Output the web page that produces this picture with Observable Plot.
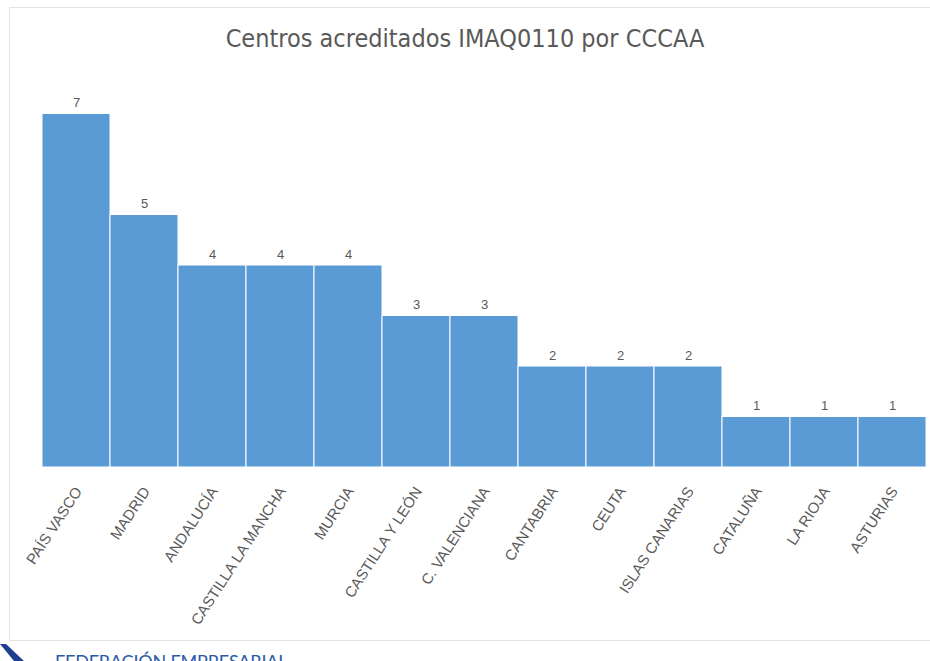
<!DOCTYPE html>
<html>
<head>
<meta charset="utf-8">
<script src="https://cdn.jsdelivr.net/npm/d3@7"></script>
<script src="https://cdn.jsdelivr.net/npm/@observablehq/plot@0.6"></script>
<style>
  html, body { margin: 0; padding: 0; background: #fff; overflow: hidden; }
  #wrap { position: relative; width: 930px; height: 661px; }
  #frame { position: absolute; left: 9px; top: 7px; width: 930px; height: 634px; border: 1px solid #e3e3e3; box-sizing: border-box; }
  #title { position: absolute; left: 0; top: 24px; width: 930px; text-align: center;
           font-family: "Liberation Sans Narrow", "DejaVu Sans Condensed", sans-serif; font-size: 25px; color: #595959; }
  #footer { position: absolute; left: 55px; top: 650px; font-family: Lato, "Open Sans", sans-serif; font-size: 18px;
            color: #2b5aa6; letter-spacing: -0.2px; white-space: nowrap; }
  #chart { position: absolute; left: 0; top: 0; }
  #logo { position: absolute; left: 0; top: 640px; }
</style>
</head>
<body>
<div id="wrap">
  <div id="frame"></div>
  <div id="chart"></div>
  <div id="title">Centros acreditados IMAQ0110 por CCCAA</div>
  <div id="footer">FEDERACIÓN EMPRESARIAL</div>
  <svg id="logo" width="30" height="21"><path d="M0,4 L6,4 L24,21 L14,21 Z" fill="#1f3f8f"/></svg>
</div>
<script>
const regions = ["PAÍS VASCO", "MADRID", "ANDALUCÍA", "CASTILLA LA MANCHA", "MURCIA", "CASTILLA Y LEÓN",
  "C. VALENCIANA", "CANTABRIA", "CEUTA", "ISLAS CANARIAS", "CATALUÑA", "LA RIOJA", "ASTURIAS"];
const centros = [7, 5, 4, 4, 4, 3, 3, 2, 2, 2, 1, 1, 1];
const yTicks = [0, 1, 2, 3, 4, 5, 6, 7, 8];

const data = regions.map((r, i) => ({region: r, value: centros[i]}));

const chart = Plot.plot({
  width: 930,
  height: 661,
  marginLeft: 39,
  marginRight: 2,
  marginTop: 63,
  marginBottom: 194,
  style: {fontFamily: "Liberation Sans, sans-serif", background: "transparent"},
  x: {domain: regions, padding: 0, axis: null},
  y: {domain: [0, 8], axis: null},
  marks: [
    Plot.ruleY(yTicks, {stroke: "#d9d9d9", strokeWidth: 1, x1: 0.5, x2: 12.5}),
    Plot.barY(data, {x: "region", y: "value", fill: "#5b9bd5", stroke: "#ffffff", strokeWidth: 1}),
    Plot.text(data, {x: "region", y: "value", text: d => String(d.value), dy: -11,
      fill: "#595959", fontSize: 13}),
    Plot.axisX({domain: regions, tickSize: 0, tickPadding: 0, tickRotate: -57, textAnchor: "end",
      fontSize: 15, fill: "#595959", dx: 2, dy: 21, label: null})
  ]
});
document.getElementById("chart").appendChild(chart);
</script>
</body>
</html>
